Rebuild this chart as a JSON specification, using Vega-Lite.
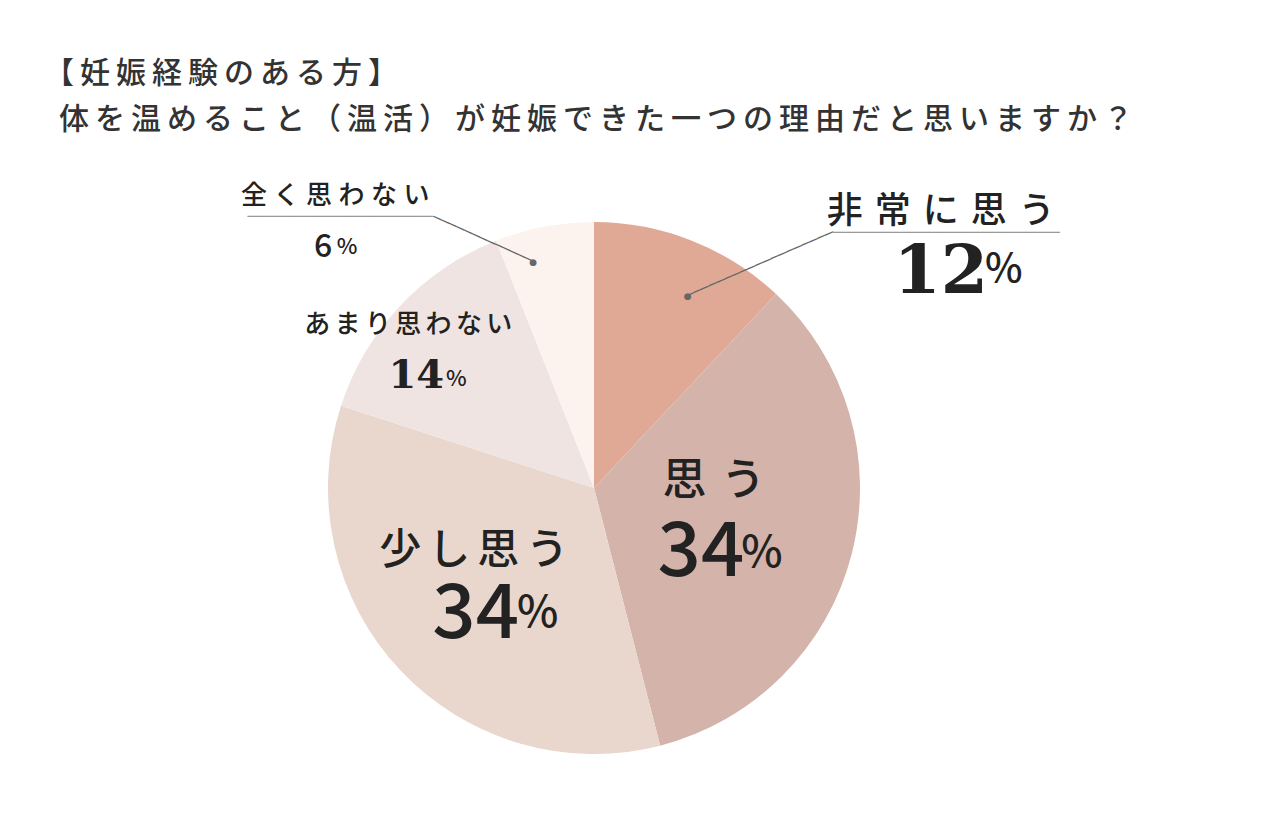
{
  "$schema": "https://vega.github.io/schema/vega-lite/v6.json",
  "width": 1188,
  "height": 656,
  "autosize": {"type": "none"},
  "padding": {"left": 0, "top": 160, "right": 84, "bottom": 0},
  "background": "white",
  "view": {"stroke": null},
  "title": {
    "text": ["【\u2009妊\u2009娠\u2009経\u2009験\u2009の\u2009あ\u2009る\u2009方\u2009】", "\u200B\u2004\u2006体\u2009を\u2009温\u2009め\u2009る\u2009こ\u2009と\u2009（\u2009温\u2009活\u2009）\u2009が\u2009妊\u2009娠\u2009で\u2009き\u2009た\u2009一\u2009つ\u2009の\u2009理\u2009由\u2009だ\u2009と\u2009思\u2009い\u2009ま\u2009す\u2009か\u2009？"],
    "anchor": "start",
    "frame": "group",
    "dx": 44,
    "offset": 25,
    "font": "Noto Sans CJK JP",
    "fontSize": 30,
    "fontWeight": 500,
    "color": "#333333",
    "lineHeight": 46
  },
  "data": {
    "values": [
      {"category": "非常に思う", "value": 12, "rank": 1},
      {"category": "思う", "value": 34, "rank": 2},
      {"category": "少し思う", "value": 34, "rank": 3},
      {"category": "あまり思わない", "value": 14, "rank": 4},
      {"category": "全く思わない", "value": 6, "rank": 5}
    ]
  },
  "encoding": {
    "theta": {"field": "value", "type": "quantitative", "stack": true},
    "order": {"field": "rank", "type": "quantitative"}
  },
  "layer": [
    {
      "mark": {"type": "arc", "radius": 266, "stroke": null},
      "encoding": {
        "color": {
          "field": "category",
          "type": "nominal",
          "scale": {
            "domain": ["非常に思う", "思う", "少し思う", "あまり思わない", "全く思わない"],
            "range": ["#E0A996", "#D4B4AA", "#E9D7CE", "#EFE4E1", "#FDF3EE"]
          },
          "legend": null
        }
      }
    },
    {
      "mark": {"type": "text", "radius": 214, "dx": 268, "dy": -77, "fontSize": 36, "font": "Noto Sans CJK JP", "fontWeight": 500, "color": "#222222"},
      "encoding": {"text": {"condition": {"test": "datum.category === '非常に思う'", "value": "非\u2004常\u2004に\u2004思\u2004う"}, "value": ""}}
    },
    {
      "mark": {"type": "text", "radius": 214, "dx": 268, "dy": -16, "fontSize": 68, "font": "DejaVu Serif", "fontWeight": "bold", "color": "#222222"},
      "encoding": {"text": {"condition": {"test": "datum.category === '非常に思う'", "field": "value", "type": "quantitative"}, "value": ""}}
    },
    {
      "mark": {"type": "text", "radius": 214, "dx": 331, "dy": -19, "fontSize": 40, "font": "Noto Sans CJK JP", "fontWeight": 500, "color": "#222222"},
      "encoding": {"text": {"condition": {"test": "datum.category === '非常に思う'", "value": "%"}, "value": ""}}
    },
    {
      "mark": {"type": "text", "radius": 214, "dx": 15, "dy": 7, "fontSize": 9, "font": "DejaVu Sans", "color": "#666666"},
      "encoding": {"text": {"condition": {"test": "datum.category === '非常に思う'", "value": "●"}, "value": ""}}
    },
    {
      "mark": {"type": "text", "radius": 214, "dx": 89.7, "dy": 12.4, "angle": 336.4, "fontSize": 14, "font": "DejaVu Sans Mono", "color": "#666666"},
      "encoding": {"text": {"condition": {"test": "datum.category === '非常に思う'", "value": "───────────────────"}, "value": ""}}
    },
    {
      "mark": {"type": "text", "radius": 214, "dx": 273, "dy": -56, "fontSize": 14, "font": "DejaVu Sans Mono", "color": "#999999"},
      "encoding": {"text": {"condition": {"test": "datum.category === '非常に思う'", "value": "───────────────────────────"}, "value": ""}}
    },
    {
      "mark": {"type": "text", "radius": 130, "dx": -6, "dy": -38, "fontSize": 44, "font": "Noto Sans CJK JP", "fontWeight": 500, "color": "#222222"},
      "encoding": {"text": {"condition": {"test": "datum.category === '思う'", "value": "思\u2004う"}, "value": ""}}
    },
    {
      "mark": {"type": "text", "radius": 130, "dx": -19, "dy": 33, "fontSize": 76, "font": "Noto Sans CJK JP", "fontWeight": 500, "color": "#222222"},
      "encoding": {"text": {"condition": {"test": "datum.category === '思う'", "field": "value", "type": "quantitative"}, "value": ""}}
    },
    {
      "mark": {"type": "text", "radius": 130, "dx": 42, "dy": 34, "fontSize": 44, "font": "Noto Sans CJK JP", "fontWeight": 500, "color": "#222222"},
      "encoding": {"text": {"condition": {"test": "datum.category === '思う'", "value": "%"}, "value": ""}}
    },
    {
      "mark": {"type": "text", "radius": 150, "dx": -11, "dy": -40, "fontSize": 42, "font": "Noto Sans CJK JP", "fontWeight": 500, "color": "#222222"},
      "encoding": {"text": {"condition": {"test": "datum.category === '少し思う'", "value": "少\u2006し\u2006思\u2006う"}, "value": ""}}
    },
    {
      "mark": {"type": "text", "radius": 150, "dx": -9, "dy": 24, "fontSize": 76, "font": "Noto Sans CJK JP", "fontWeight": 500, "color": "#222222"},
      "encoding": {"text": {"condition": {"test": "datum.category === '少し思う'", "field": "value", "type": "quantitative"}, "value": ""}}
    },
    {
      "mark": {"type": "text", "radius": 150, "dx": 53, "dy": 23, "fontSize": 44, "font": "Noto Sans CJK JP", "fontWeight": 500, "color": "#222222"},
      "encoding": {"text": {"condition": {"test": "datum.category === '少し思う'", "value": "%"}, "value": ""}}
    },
    {
      "mark": {"type": "text", "radius": 215, "dx": -29, "dy": -16, "fontSize": 26, "font": "Noto Sans CJK JP", "fontWeight": 500, "color": "#222222"},
      "encoding": {"text": {"condition": {"test": "datum.category === 'あまり思わない'", "value": "あ\u2006ま\u2006り\u2006思\u2006わ\u2006な\u2006い"}, "value": ""}}
    },
    {
      "mark": {"type": "text", "radius": 215, "dx": -21, "dy": 35, "fontSize": 40, "font": "DejaVu Serif", "fontWeight": "bold", "color": "#222222"},
      "encoding": {"text": {"condition": {"test": "datum.category === 'あまり思わない'", "field": "value", "type": "quantitative"}, "value": ""}}
    },
    {
      "mark": {"type": "text", "radius": 215, "dx": 19, "dy": 38, "fontSize": 22, "font": "Noto Sans CJK JP", "fontWeight": 500, "color": "#222222"},
      "encoding": {"text": {"condition": {"test": "datum.category === 'あまり思わない'", "value": "%"}, "value": ""}}
    },
    {
      "mark": {"type": "text", "radius": 234, "dx": -215, "dy": -62, "fontSize": 26, "font": "Noto Sans CJK JP", "fontWeight": 500, "color": "#222222"},
      "encoding": {"text": {"condition": {"test": "datum.category === '全く思わない'", "value": "全\u2005く\u2005思\u2005わ\u2005な\u2005い"}, "value": ""}}
    },
    {
      "mark": {"type": "text", "radius": 234, "dx": -227, "dy": -11, "fontSize": 32, "font": "Noto Sans CJK JP", "fontWeight": 500, "color": "#222222"},
      "encoding": {"text": {"condition": {"test": "datum.category === '全く思わない'", "field": "value", "type": "quantitative"}, "value": ""}}
    },
    {
      "mark": {"type": "text", "radius": 234, "dx": -203, "dy": -11, "fontSize": 22, "font": "Noto Sans CJK JP", "fontWeight": 500, "color": "#222222"},
      "encoding": {"text": {"condition": {"test": "datum.category === '全く思わない'", "value": "%"}, "value": ""}}
    },
    {
      "mark": {"type": "text", "radius": 234, "dx": -17, "dy": 4, "fontSize": 9, "font": "DejaVu Sans", "color": "#666666"},
      "encoding": {"text": {"condition": {"test": "datum.category === '全く思わない'", "value": "●"}, "value": ""}}
    },
    {
      "mark": {"type": "text", "radius": 234, "dx": -68.8, "dy": 10.5, "angle": 24.2, "fontSize": 14, "font": "DejaVu Sans Mono", "color": "#666666"},
      "encoding": {"text": {"condition": {"test": "datum.category === '全く思わない'", "value": "─────────────"}, "value": ""}}
    },
    {
      "mark": {"type": "text", "radius": 234, "dx": -210, "dy": -41, "fontSize": 14, "font": "DejaVu Sans Mono", "color": "#999999"},
      "encoding": {"text": {"condition": {"test": "datum.category === '全く思わない'", "value": "──────────────────────"}, "value": ""}}
    }
  ]
}
